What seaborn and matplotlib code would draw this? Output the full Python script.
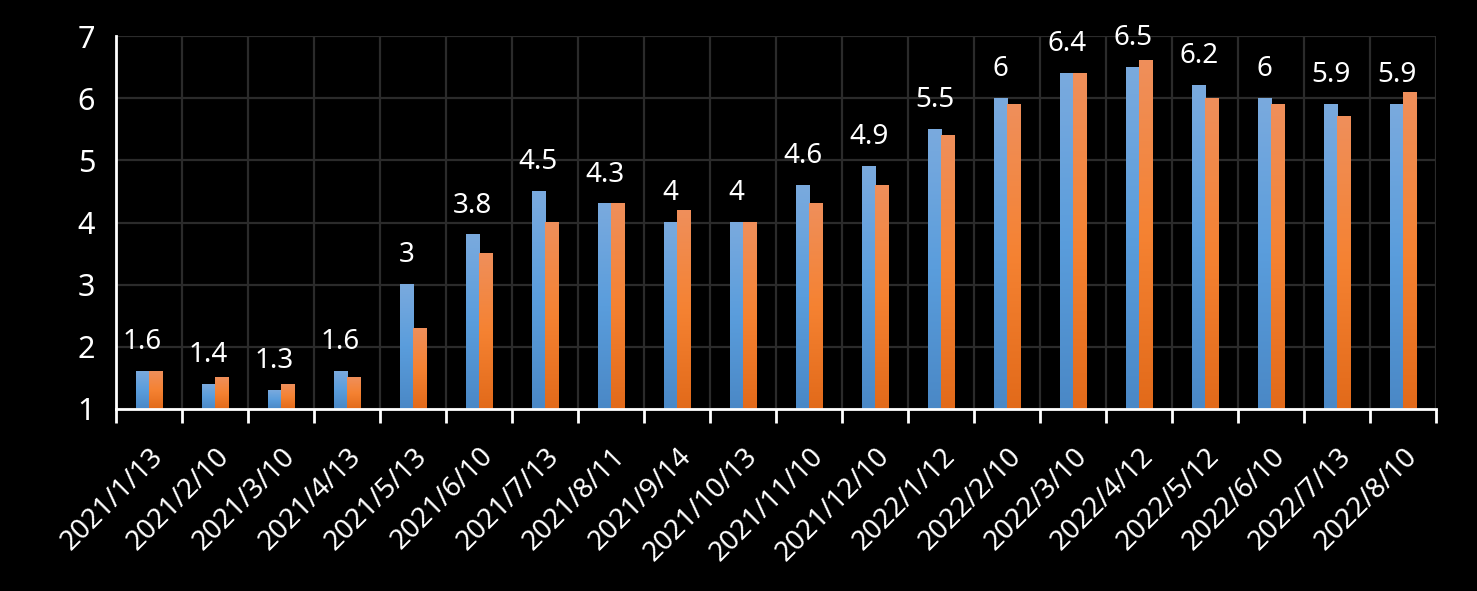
import numpy as np
import pandas as pd
import matplotlib
matplotlib.use("Agg")
import matplotlib.pyplot as plt
import seaborn as sns
from matplotlib.colors import LinearSegmentedColormap

dates = ["2021/1/13", "2021/2/10", "2021/3/10", "2021/4/13", "2021/5/13", "2021/6/10",
         "2021/7/13", "2021/8/11", "2021/9/14", "2021/10/13", "2021/11/10", "2021/12/10",
         "2022/1/12", "2022/2/10", "2022/3/10", "2022/4/12", "2022/5/12", "2022/6/10",
         "2022/7/13", "2022/8/10"]
series_a = [1.6, 1.4, 1.3, 1.6, 3.0, 3.8, 4.5, 4.3, 4.0, 4.0, 4.6, 4.9,
            5.5, 6.0, 6.4, 6.5, 6.2, 6.0, 5.9, 5.9]
series_b = [1.6, 1.5, 1.4, 1.5, 2.3, 3.5, 4.0, 4.3, 4.2, 4.0, 4.3, 4.6,
            5.4, 5.9, 6.4, 6.6, 6.0, 5.9, 5.7, 6.1]
series_names = ["A", "B"]
y_ticks = [1, 2, 3, 4, 5, 6, 7]

df = pd.DataFrame({
    "date": dates * 2,
    "value": series_a + series_b,
    "series": [series_names[0]] * len(dates) + [series_names[1]] * len(dates),
})

sns.set_theme(style="dark")
plt.rcParams["font.family"] = ["Noto Sans", "DejaVu Sans"]

fig = plt.figure(figsize=(14.77, 5.91), dpi=100, facecolor="black")
ax = fig.add_axes([0.0785, 0.308, 0.894, 0.631])
ax.set_facecolor("black")

blue = "#5b9bd5"
orange = "#ed7d31"
sns.barplot(data=df, x="date", y="value", hue="series", palette=[blue, orange],
            width=0.4, legend=False, ax=ax, saturation=1, zorder=3)

grads = [
    LinearSegmentedColormap.from_list("b", ["#4a88c6", "#5a9ddc", "#7aaade"]),
    LinearSegmentedColormap.from_list("o", ["#e26a1a", "#f58232", "#ef8f5b"]),
]
ymin, ymax = 1, 7
grad = np.linspace(0, 1, 256).reshape(-1, 1)
for cont, cmap in zip(ax.containers, grads):
    for p in cont.patches:
        x0 = p.get_x()
        w = p.get_width()
        h = p.get_height()
        p.set_visible(False)
        ax.imshow(grad, cmap=cmap, origin="lower", aspect="auto",
                  extent=(x0, x0 + w, ymin, h), zorder=3, interpolation="bilinear")

# data labels above first series
for i, v in enumerate(series_a):
    pa = ax.containers[0].patches[i]
    xc = pa.get_x() + pa.get_width() / 2
    ax.annotate(f"{v:g}", (xc, v), xytext=(0, 11), textcoords="offset points",
                ha="center", va="bottom", color="white", fontsize=20, zorder=5)

ax.set_xlim(-0.5, len(dates) - 0.5)
ax.set_ylim(ymin, ymax)
ax.set_yticks(y_ticks)
ax.set_yticklabels([str(t) for t in y_ticks], color="white", fontsize=22)
ax.tick_params(axis="y", length=0, pad=15)

ax.set_xticks(range(len(dates)))
ax.set_xticklabels(dates, rotation=45, ha="right", va="top", rotation_mode="anchor",
                   color="white", fontsize=20)
ax.set_xticks(np.arange(-0.5, len(dates), 1), minor=True)
ax.tick_params(axis="x", which="major", length=0, pad=24)
ax.tick_params(axis="x", which="minor", length=10, width=2, color="white", bottom=True)

ax.grid(True, which="major", axis="y", color="#2b2b2b", linewidth=1.6, zorder=0)
ax.grid(True, which="minor", axis="x", color="#2b2b2b", linewidth=1.6, zorder=0)
ax.grid(False, which="major", axis="x")

for s in ["top", "right"]:
    ax.spines[s].set_visible(False)
for s in ["left", "bottom"]:
    ax.spines[s].set_visible(True)
    ax.spines[s].set_color("white")
    ax.spines[s].set_linewidth(2)
    ax.spines[s].set_zorder(4)

ax.set_xlabel("")
ax.set_ylabel("")

fig.savefig("out.png", dpi=100, facecolor="black")
